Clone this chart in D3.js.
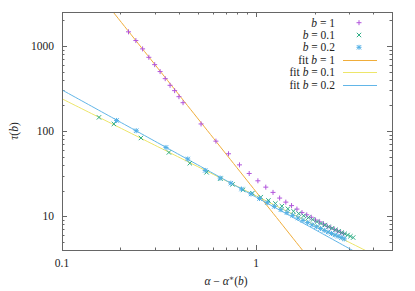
<!DOCTYPE html>
<html>
<head>
<meta charset="utf-8">
<script src="https://cdn.jsdelivr.net/npm/d3@7"></script>
<style>
  body { margin: 0; background: #fff; }
  text { font-family: "Liberation Serif", "DejaVu Serif", serif; fill: #222; }
</style>
</head>
<body>
<div id="chart"></div>
<script>
// measured points, b = 1
var xB1 = [0.22, 0.24, 0.26, 0.28, 0.30, 0.32, 0.34, 0.36, 0.38, 0.40, 0.42,
  0.52, 0.62, 0.72, 0.82, 0.92, 1.02, 1.12, 1.22, 1.32, 1.42, 1.52, 1.62, 1.72,
  1.82, 1.92, 2.02, 2.12, 2.22, 2.32, 2.42, 2.52, 2.62, 2.72, 2.82];
var yB1 = [1462, 1155, 922, 734, 602, 499, 412, 344, 298, 253, 215,
  121, 76, 54, 40, 31.7, 26, 21.9, 19, 16.3, 14.6, 13.3, 12.1, 11.0,
  10.35, 9.7, 9.0, 8.57, 8.1, 7.6, 7.3, 7.0, 6.7, 6.45, 6.2];

// b = 0.1
var xB01 = [0.155, 0.185, 0.255, 0.355, 0.455, 0.555, 0.655, 0.755, 0.855, 0.955,
  1.055, 1.155, 1.255, 1.355, 1.455, 1.555, 1.655, 1.755, 1.855, 1.955, 2.055,
  2.155, 2.255, 2.355, 2.455, 2.555, 2.655, 2.755, 2.855, 2.955, 3.055, 3.155];
var yB01 = [144.6, 121, 82.8, 56, 41.8, 32.7, 27.5, 23.6, 20.4, 18.6,
  16.7, 15.3, 14.1, 13.1, 12.2, 11.4, 10.7, 10.1, 9.6, 9.1, 8.6,
  8.2, 7.85, 7.5, 7.2, 6.9, 6.65, 6.4, 6.2, 6.0, 5.8, 5.6];

// b = 0.2
var xB02 = [0.191, 0.241, 0.343, 0.444, 0.546, 0.652, 0.74, 0.84, 0.94, 1.04,
  1.14, 1.24, 1.34, 1.44, 1.54, 1.64, 1.74, 1.84, 1.94, 2.04, 2.14, 2.24,
  2.34, 2.44, 2.54, 2.64, 2.74, 2.84];
var yB02 = [133, 100.8, 64.1, 46.9, 34.4, 28, 24.4, 20.8, 18.2, 16.1,
  14.4, 13.0, 11.9, 11.0, 10.2, 9.5, 8.9, 8.4, 7.9, 7.5, 7.15, 6.8,
  6.5, 6.25, 6.0, 5.8, 5.6, 5.4];

// power-law fits  tau = A * x^(-k)
var fitNames = ["1", "0.1", "0.2"];
var fitA = [19.2, 17.3, 16.7];
var fitK = [2.87, 1.14, 1.26];

var xTicks = [0.1, 1];
var yTicks = [10, 100, 1000];

var width = 415, height = 291;
var margin = {top: 12, right: 23, bottom: 41, left: 62};

var svg = d3.select("#chart").append("svg")
  .attr("width", width)
  .attr("height", height);

var x = d3.scaleLog().domain([0.1, 5]).range([margin.left, width - margin.right]);
var y = d3.scaleLog().domain([4, 2500]).range([height - margin.bottom, margin.top]);

var colPurple = "#b256dc", colGreen = "#2fae86", colBlue = "#52b0e6";
var colOrange = "#f0ad3a", colYellow = "#ede66a", colLine3 = "#62b6e8";

// clip for the plotting area
svg.append("clipPath").attr("id", "clip").append("rect")
  .attr("x", margin.left).attr("y", margin.top)
  .attr("width", width - margin.left - margin.right)
  .attr("height", height - margin.top - margin.bottom);

// minor / major ticks, mirrored on all four sides
var x0 = margin.left, x1 = width - margin.right;
var y0 = height - margin.bottom, y1 = margin.top;
var tickG = svg.append("g").attr("stroke", "#666").attr("stroke-width", 1);

var xMinor = [];
[0.1, 1].forEach(function(d) { for (var m = 2; m <= 9; m++) if (d * m < 5) xMinor.push(d * m); });
var yMinor = [];
[1, 10, 100, 1000].forEach(function(d) { for (var m = 2; m <= 9; m++) if (d * m > 4 && d * m < 2500) yMinor.push(d * m); });

function xt(v, len) {
  var px = Math.round(x(v)) + 0.5;
  tickG.append("line").attr("x1", px).attr("x2", px).attr("y1", y0).attr("y2", y0 - len);
  tickG.append("line").attr("x1", px).attr("x2", px).attr("y1", y1).attr("y2", y1 + len);
}
function yt(v, len) {
  var py = Math.round(y(v)) + 0.5;
  tickG.append("line").attr("y1", py).attr("y2", py).attr("x1", x0).attr("x2", x0 + len);
  tickG.append("line").attr("y1", py).attr("y2", py).attr("x1", x1).attr("x2", x1 - len);
}
xMinor.forEach(function(v) { xt(v, 2.5); });
xTicks.forEach(function(v) { xt(v, 5); });
yMinor.forEach(function(v) { yt(v, 2.5); });
yTicks.forEach(function(v) { yt(v, 5); });

// fit lines
var fitCols = [colOrange, colYellow, colLine3];
var samples = d3.range(0, 101).map(function(i) { return 0.1 * Math.pow(50, i / 100); });
var line = d3.line().x(function(d) { return x(d[0]); }).y(function(d) { return y(d[1]); });
var plot = svg.append("g").attr("clip-path", "url(#clip)");
fitA.forEach(function(A, i) {
  plot.append("path")
    .datum(samples.map(function(s) { return [s, A * Math.pow(s, -fitK[i])]; }))
    .attr("d", line)
    .attr("fill", "none")
    .attr("stroke", fitCols[i])
    .attr("stroke-width", 1);
});

// point markers
function plus(g, cx, cy, c) {
  var r = 2.5;
  g.append("path").attr("d", "M" + (cx - r) + "," + cy + "H" + (cx + r) + "M" + cx + "," + (cy - r) + "V" + (cy + r))
    .attr("stroke", c).attr("stroke-width", 1).attr("fill", "none");
}
function cross(g, cx, cy, c) {
  var r = 2.2;
  g.append("path").attr("d", "M" + (cx - r) + "," + (cy - r) + "L" + (cx + r) + "," + (cy + r) + "M" + (cx - r) + "," + (cy + r) + "L" + (cx + r) + "," + (cy - r))
    .attr("stroke", c).attr("stroke-width", 1).attr("fill", "none");
}
function star(g, cx, cy, c) {
  plus(g, cx, cy, c);
  cross(g, cx, cy, c);
}

xB1.forEach(function(v, i) { plus(plot, x(v), y(yB1[i]), colPurple); });
xB01.forEach(function(v, i) { cross(plot, x(v), y(yB01[i]), colGreen); });
xB02.forEach(function(v, i) { star(plot, x(v), y(yB02[i]), colBlue); });

// border
svg.append("rect")
  .attr("x", x0 + 0.5).attr("y", y1 + 0.5)
  .attr("width", x1 - x0).attr("height", y0 - y1)
  .attr("fill", "none").attr("stroke", "#666").attr("stroke-width", 1);

// tick labels
svg.selectAll(".xl").data(xTicks).enter().append("text")
  .attr("x", function(d) { return x(d); })
  .attr("y", y0 + 17)
  .attr("text-anchor", "middle")
  .attr("font-size", "11.5px")
  .text(function(d) { return d; });
svg.selectAll(".yl").data(yTicks).enter().append("text")
  .attr("x", x0 - 8)
  .attr("y", function(d) { return y(d) + 4; })
  .attr("text-anchor", "end")
  .attr("font-size", "11.5px")
  .text(function(d) { return d; });

// axis titles
var xl = svg.append("text")
  .attr("x", 226).attr("y", 285)
  .attr("text-anchor", "middle")
  .attr("font-size", "11.5px");
xl.append("tspan").attr("font-style", "italic").text("α");
xl.append("tspan").text(" − ");
xl.append("tspan").attr("font-style", "italic").text("α");
xl.append("tspan").attr("font-size", "8px").attr("dy", -4).text("∗");
xl.append("tspan").attr("dy", 4).text("(");
xl.append("tspan").attr("font-style", "italic").text("b");
xl.append("tspan").text(")");

var yl = svg.append("text")
  .attr("transform", "translate(18,131) rotate(-90)")
  .attr("text-anchor", "middle")
  .attr("font-size", "11.5px");
yl.append("tspan").attr("font-style", "italic").text("τ");
yl.append("tspan").text("(");
yl.append("tspan").attr("font-style", "italic").text("b");
yl.append("tspan").text(")");

// legend
var legY = [22.7, 35, 47.3, 60, 72.3, 84.7];
var legTextX = 335;
var markFns = [plus, cross, star];
var markCols = [colPurple, colGreen, colBlue];
for (var i = 0; i < 6; i++) {
  var t = svg.append("text")
    .attr("x", legTextX).attr("y", legY[i] + 4)
    .attr("text-anchor", "end")
    .attr("font-size", "11.5px");
  var name = fitNames[i % 3];
  if (i >= 3) t.append("tspan").text("fit ");
  t.append("tspan").attr("font-style", "italic").text("b");
  t.append("tspan").text(" = " + name);
  if (i < 3) {
    markFns[i](svg, 359, legY[i], markCols[i]);
  } else {
    svg.append("line")
      .attr("x1", 343).attr("x2", 377)
      .attr("y1", Math.round(legY[i]) + 0.5).attr("y2", Math.round(legY[i]) + 0.5)
      .attr("stroke", fitCols[i - 3]).attr("stroke-width", 1);
  }
}
</script>
</body>
</html>
